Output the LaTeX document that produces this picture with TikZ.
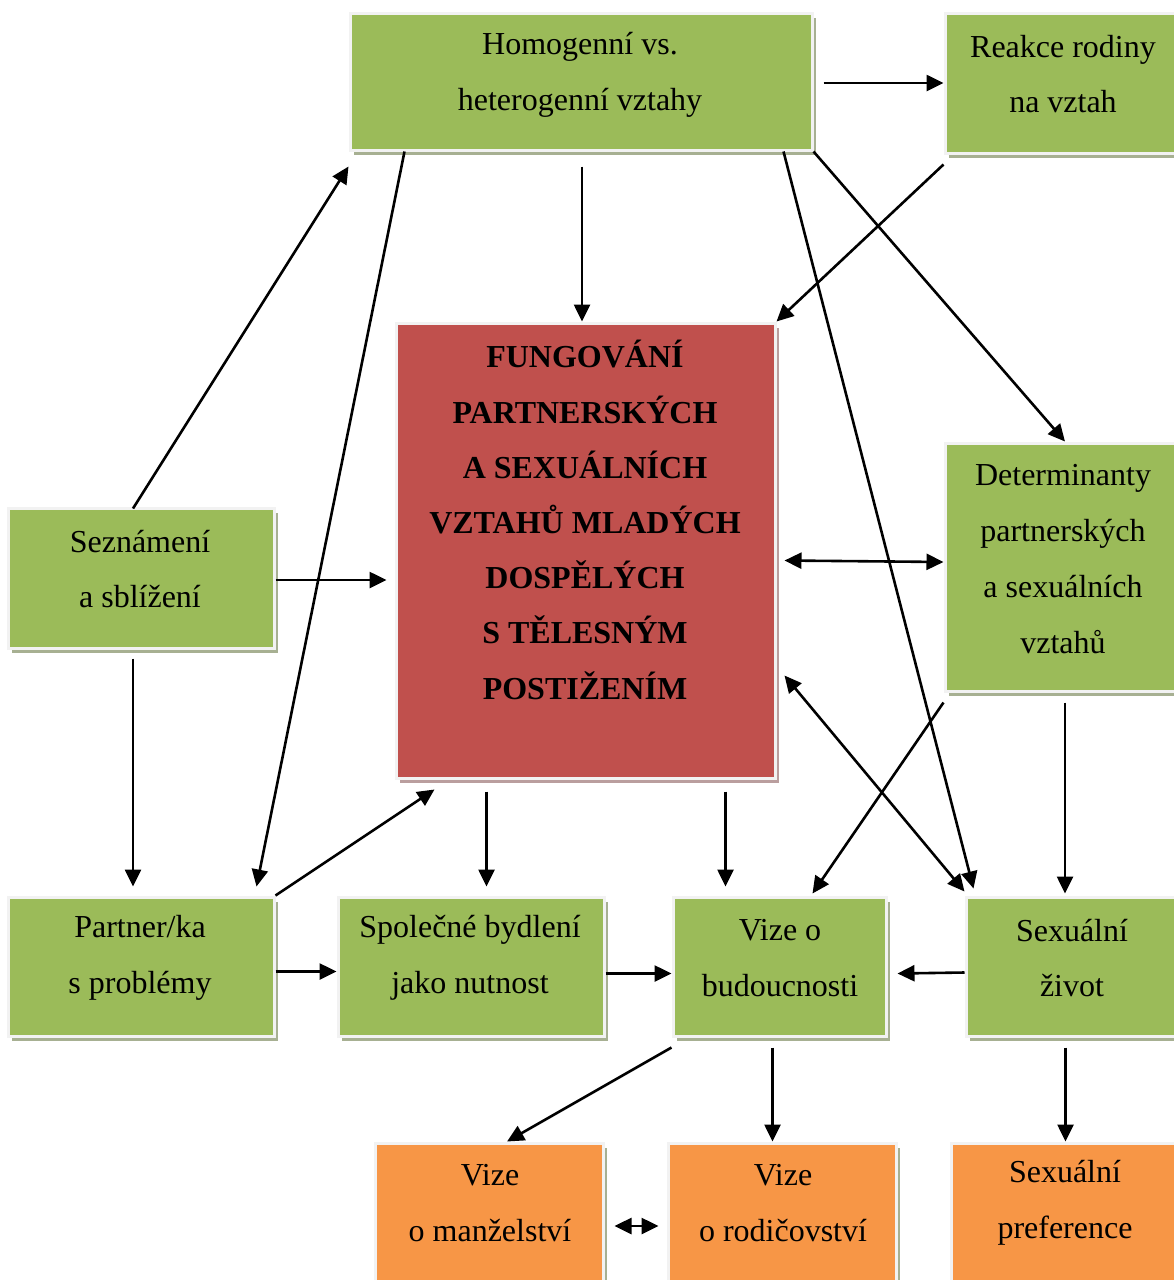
\documentclass[tikz,border=0pt]{standalone}
\usepackage{fontspec}
\setmainfont{Liberation Serif}
\usetikzlibrary{positioning,arrows.meta,fit,calc,shadows}
\definecolor{green500}{HTML}{9BBB59}
\definecolor{red500}  {HTML}{C0504D}
\definecolor{orange500}{HTML}{F79646}
\definecolor{edge100} {HTML}{F2F2F2}
\definecolor{shadeg}  {HTML}{A7B092}
\definecolor{shader}  {HTML}{BA9E9E}
\tikzset{
  boxg/.style  ={draw=edge100, line width=1.5pt, fill=green500, inner sep=0pt,
                 drop shadow={shadow xshift=1.8pt, shadow yshift=-2.6pt,
                              fill=shadeg, opacity=1}},
  boxr/.style  ={boxg, fill=red500,
                 drop shadow={shadow xshift=1.8pt, shadow yshift=-2.6pt,
                              fill=shader, opacity=1}},
  boxo/.style  ={boxg, fill=orange500},
  txt/.style   ={font=\fontsize{16}{27.9}\selectfont, align=center,
                 inner sep=0pt},
  txtb/.style  ={txt, font=\fontsize{16}{27.6}\selectfont\bfseries},
  ar/.style    ={-{Triangle[length=8.5pt, width=8pt]}, line width=1.3pt},
  arr/.style   ={{Triangle[length=8.5pt, width=8pt]}-{Triangle[length=8.5pt, width=8pt]},
                 line width=1.3pt}
}

\begin{document}
\begin{tikzpicture}[x=0.5pt, y=-0.5pt]
\useasboundingbox (0,0) rectangle (1173,1280);

% boxes
\node[boxg, fit={(350,13) (812,150)}]   (homo)     {};
\node[boxg, fit={(945,13) (1190,153)}]  (reakce)   {};
\node[boxr, fit={(396,323) (775,778)}]  (jadro)    {};
\node[boxg, fit={(8,508) (274,648)}]    (sezn)     {};
\node[boxg, fit={(945,443) (1185,691)}] (determ)   {};
\node[boxg, fit={(8,897) (274,1036)}]   (partner)  {};
\node[boxg, fit={(338,897) (604,1036)}] (bydleni)  {};
\node[boxg, fit={(673,897) (886,1036)}] (vize)     {};
\node[boxg, fit={(966,897) (1185,1036)}] (sexzivot) {};
\node[boxo, fit={(375,1143) (603,1295)}] (manz)    {};
\node[boxo, fit={(668,1143) (896,1295)}] (rodic)   {};
\node[boxo, fit={(951,1143) (1185,1295)}] (pref)   {};

% texts
\node[txt] (homo-t)     at (580,75)    {Homogenní vs.\\heterogenní vztahy};
\node[txt] (reakce-t)   at (1063,74)   {Reakce rodiny\\na vztah};
\node[txtb] (jadro-t)   at (585,520)   {FUNGOVÁNÍ\\PARTNERSKÝCH\\A SEXUÁLNÍCH\\
                                        VZTAHŮ MLADÝCH\\DOSPĚLÝCH\\
                                        S TĚLESNÝM\\POSTIŽENÍM};
\node[txt] (sezn-t)     at (140,569)   {Seznámení\\a sblížení};
\node[txt] (determ-t)   at (1063,559)  {Determinanty\\partnerských\\
                                        a sexuálních\\vztahů};
\node[txt] (partner-t)  at (140,958)   {Partner/ka\\s problémy};
\node[txt] (bydleni-t)  at (470,958)   {Společné bydlení\\jako nutnost};
\node[txt] (vize-t)     at (780,958)   {Vize o\\budoucnosti};
\node[txt] (sexzivot-t) at (1072,958)  {Sexuální\\život};
\node[txt] (manz-t)     at (490,1203)  {Vize\\o manželství};
\node[txt] (rodic-t)    at (783,1203)  {Vize\\o rodičovství};
\node[txt] (pref-t)     at (1065,1203) {Sexuální\\preference};

% connectors
\draw[ar] ($(homo.east |- reakce.west)+(10,0)$) -- (reakce.west);
\draw[ar] ($(homo.south)+(1,15)$) coordinate (a1) -- (a1 |- jadro.north);
\draw[ar] ($(reakce.south west)+(0,10)$) -- (jadro.north east);
\draw[ar] (homo.south east) -- (determ.north);
\draw[ar] ($(homo.south east)+(-30,0)$) -- ($(sexzivot.north west)+(9,-7)$);
\draw[ar] ($(homo.south west)+(56,0)$) -- ($(partner.north east)+(-19,-9)$);
\draw[ar] ($(sezn.north)+(-8,2)$) -- ($(homo.south west)+(0,15)$);
\draw[ar] ($(sezn.east)+(0,2)$) coordinate (a2) -- ($(a2 -| jadro.west)+(-8,0)$);
\draw[ar] ($(sezn.south)+(-8,9)$) coordinate (a3) -- ($(a3 |- partner.north)+(0,-9)$);
\draw[ar] (partner.north east) -- ($(jadro.south west)+(40,10)$);
\draw[ar] ($(partner.east)+(0,5)$) coordinate (a4) -- (a4 -| bydleni.west);
\draw[ar] ($(jadro.south west)+(92,12)$) coordinate (a5) -- ($(a5 |- bydleni.north)+(0,-9)$);
\draw[ar] ($(jadro.south west)+(331,12)$) coordinate (a6) -- ($(a6 |- vize.north)+(0,-9)$);
\draw[arr] ($(jadro.east)+(8,10)$) -- ($(determ.west)+(0,-5)$);
\draw[ar] ($(determ.south west)+(0,10)$) -- ($(vize.north)+(33,-2)$);
\draw[ar] ($(determ.south)+(0,10)$) coordinate (a7) -- ($(a7 |- sexzivot.north)+(0,-2)$);
\draw[arr] ($(jadro.east)+(8,125)$) -- ($(sexzivot.north west)+(0,-4)$);
\draw[ar] ($(bydleni.east)+(0,7)$) coordinate (a8) -- (a8 -| vize.west);
\draw[ar] ($(sexzivot.west)+(0,6)$) -- ($(vize.east)+(10,7)$);
\draw[ar] ($(vize.south west)+(0,10)$) -- ($(manz.north)+(18,0)$);
\draw[ar] ($(vize.south)+(-7,10)$) coordinate (a9) -- (a9 |- rodic.north);
\draw[ar] ($(sexzivot.south)+(-10,10)$) coordinate (a10) -- (a10 |- pref.north);
\draw[arr] ($(manz.east)+(10,7)$) -- ($(rodic.west)+(-8,7)$);
\end{tikzpicture}
\end{document}
